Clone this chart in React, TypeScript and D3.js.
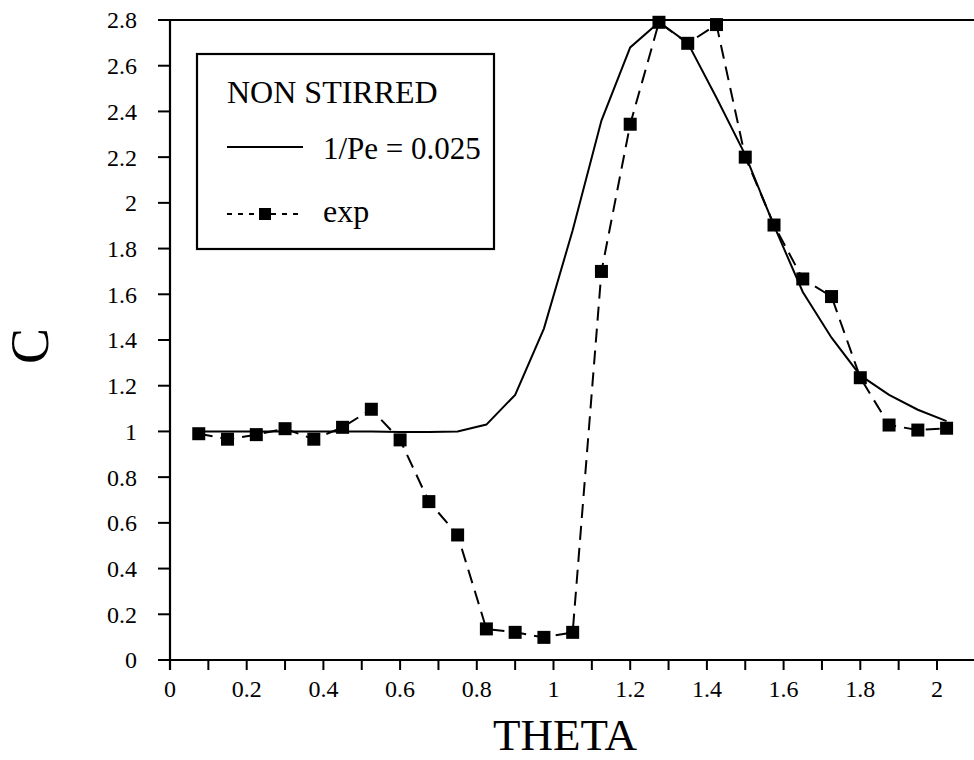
import React from "react";
import * as d3 from "d3";

const thetaExp = [0.075, 0.15, 0.225, 0.3, 0.375, 0.45, 0.525, 0.6, 0.675, 0.75, 0.825, 0.9, 0.975, 1.05, 1.125, 1.2, 1.275, 1.35, 1.425, 1.5, 1.575, 1.65, 1.725, 1.8, 1.875, 1.95, 2.025];
const cExp = [0.99, 0.966, 0.986, 1.012, 0.966, 1.018, 1.097, 0.963, 0.693, 0.547, 0.136, 0.121, 0.099, 0.121, 1.70, 2.344, 2.79, 2.698, 2.78, 2.20, 1.903, 1.667, 1.59, 1.235, 1.028, 1.006, 1.014];

const thetaModel = [0.075, 0.15, 0.225, 0.3, 0.375, 0.45, 0.525, 0.6, 0.675, 0.75, 0.825, 0.9, 0.975, 1.05, 1.125, 1.2, 1.275, 1.35, 1.425, 1.5, 1.575, 1.65, 1.725, 1.8, 1.875, 1.95, 2.025];
const cModel = [1.0, 1.0, 1.0, 1.0, 1.0, 1.0, 1.0, 0.998, 0.998, 1.0, 1.03, 1.16, 1.45, 1.88, 2.36, 2.68, 2.79, 2.70, 2.46, 2.21, 1.90, 1.61, 1.41, 1.245, 1.16, 1.095, 1.045];

const xTicksMajor = [0, 0.2, 0.4, 0.6, 0.8, 1, 1.2, 1.4, 1.6, 1.8, 2];
const xTicksMinor = [0.1, 0.3, 0.5, 0.7, 0.9, 1.1, 1.3, 1.5, 1.7, 1.9, 2.1];
const yTicks = [0, 0.2, 0.4, 0.6, 0.8, 1, 1.2, 1.4, 1.6, 1.8, 2, 2.2, 2.4, 2.6, 2.8];

const legendTitle = "NON STIRRED";
const legendModel = "1/Pe = 0.025";
const legendExp = "exp";
const xLabel = "THETA";
const yLabel = "C";

export default function App() {
  const W = 974, H = 760;
  const x = d3.scaleLinear().domain([0, 2]).range([170, 937]);
  const y = d3.scaleLinear().domain([0, 2.8]).range([660, 20]);
  const font = "Liberation Serif, Times New Roman, serif";
  const ts = { fontFamily: font };

  const line = d3.line<[number, number]>().x(d => x(d[0])).y(d => y(d[1]));
  const modelPts = thetaModel.map((t, i) => [t, cModel[i]] as [number, number]);
  const expPts = thetaExp.map((t, i) => [t, cExp[i]] as [number, number]);

  const x0 = x(0), y0 = y(0);
  const fmt = (v: number) => String(+v.toFixed(1));
  const ms = 13;

  return (
    <svg width={W} height={H} style={{ position: "absolute", left: 0, top: 0, background: "#fff", fontFamily: font }}>
      {/* axes */}
      <line x1={x0 - 12} x2={W} y1={y0} y2={y0} stroke="#000" strokeWidth={2.2} />
      <line x1={x0} x2={x0} y1={y(2.8)} y2={y0 + 10} stroke="#000" strokeWidth={2.2} />
      <line x1={x0 - 12} x2={W} y1={y(2.8)} y2={y(2.8)} stroke="#000" strokeWidth={2.2} />
      {yTicks.map(t => (
        <g key={"y" + t}>
          <line x1={x0 - 12} x2={x0} y1={y(t)} y2={y(t)} stroke="#000" strokeWidth={2} />
          <text style={ts} x={137} y={y(t)} dy="0.35em" textAnchor="end" fontSize={24}>{fmt(t)}</text>
        </g>
      ))}
      {xTicksMajor.map(t => (
        <g key={"x" + t}>
          <line x1={x(t)} x2={x(t)} y1={y0} y2={y0 + 10} stroke="#000" strokeWidth={2} />
          <text style={ts} x={x(t)} y={697} textAnchor="middle" fontSize={24}>{fmt(t)}</text>
        </g>
      ))}
      {xTicksMinor.map(t => (
        <line key={"xm" + t} x1={x(t)} x2={x(t)} y1={y0} y2={y0 + 10} stroke="#000" strokeWidth={2} />
      ))}
      <text style={ts} x={565} y={750} textAnchor="middle" fontSize={45}>{xLabel}</text>
      <text style={ts} transform="translate(48,346) rotate(-90)" textAnchor="middle" fontSize={54}>{yLabel}</text>

      {/* model */}
      <path d={line(modelPts) ?? ""} fill="none" stroke="#000" strokeWidth={2} />
      {/* exp */}
      <path d={line(expPts) ?? ""} fill="none" stroke="#000" strokeWidth={2} strokeDasharray="14,8" />
      {expPts.map((p, i) => (
        <rect key={"m" + i} x={x(p[0]) - ms / 2} y={y(p[1]) - ms / 2} width={ms} height={ms} fill="#000" />
      ))}

      {/* legend */}
      <rect x={197} y={54} width={297} height={195} fill="#fff" stroke="#000" strokeWidth={2.2} />
      <text style={ts} x={227} y={103} fontSize={32}>{legendTitle}</text>
      <line x1={227} x2={303} y1={147} y2={147} stroke="#000" strokeWidth={2} />
      <text style={ts} x={323} y={159} fontSize={31}>{legendModel}</text>
      <line x1={227} x2={303} y1={214} y2={214} stroke="#000" strokeWidth={2} strokeDasharray="5,6" />
      <rect x={265 - 6} y={214 - 6} width={12} height={12} fill="#000" />
      <text style={ts} x={323} y={222} fontSize={32}>{legendExp}</text>
    </svg>
  );
}
